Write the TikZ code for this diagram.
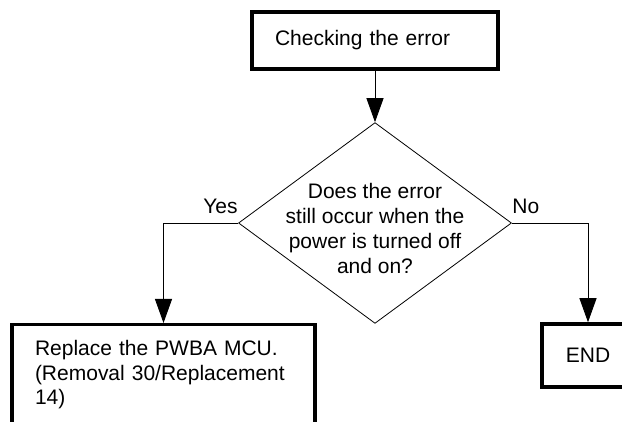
\documentclass[tikz,border=0pt]{standalone}
\usepackage{fontspec}
\setmainfont{Liberation Sans}
\usetikzlibrary{shapes.geometric,arrows.meta}

\tikzset{
    flowbox/.style={draw, line width=3.5pt, rectangle, font=\fontsize{21}{24.5}\selectfont},
    decision/.style={draw, diamond, line width=0.8pt, minimum width=273pt, minimum height=200pt,
        inner sep=-20pt, align=center, font=\fontsize{21}{25}\selectfont},
    flowline/.style={line width=0.9pt, -{Triangle[length=24pt,width=17pt]}},
    branch/.style={font=\fontsize{21}{24.5}\selectfont, inner xsep=0pt, inner ysep=9pt}
}

\begin{document}
\begin{tikzpicture}[x=1pt, y=1pt]
    \useasboundingbox (0,0) rectangle (622,-422);
    \clip (0,0) rectangle (622,-422);

    \node[flowbox, minimum width=246pt, minimum height=57pt, text width=200pt, inner xsep=23pt, align=left] (check) at (375,-40.5) {Checking the error};
    \node[decision] (occur) at (375,-223) {\rule{0pt}{27pt}Does the error\\still occur when the\\power is turned off\\and on?};
    \node[flowbox, anchor=north, text width=257pt, inner xsep=23pt, inner ysep=16pt, align=left] (replace) at (163.5,-323) {Replace the PWBA MCU.\\(Removal 30/Replacement\\14)};
    \node[flowbox, minimum width=92pt, minimum height=63pt] (end) at (588,-355.5) {END};

    \draw[flowline] (check) -- (occur);
    \draw[flowline] (occur.west) -| node[branch, pos=0, anchor=south east] {Yes} (replace.north);
    \draw[flowline] (occur.east) -| node[branch, pos=0, anchor=south west] {No} (end.north);
\end{tikzpicture}
\end{document}
